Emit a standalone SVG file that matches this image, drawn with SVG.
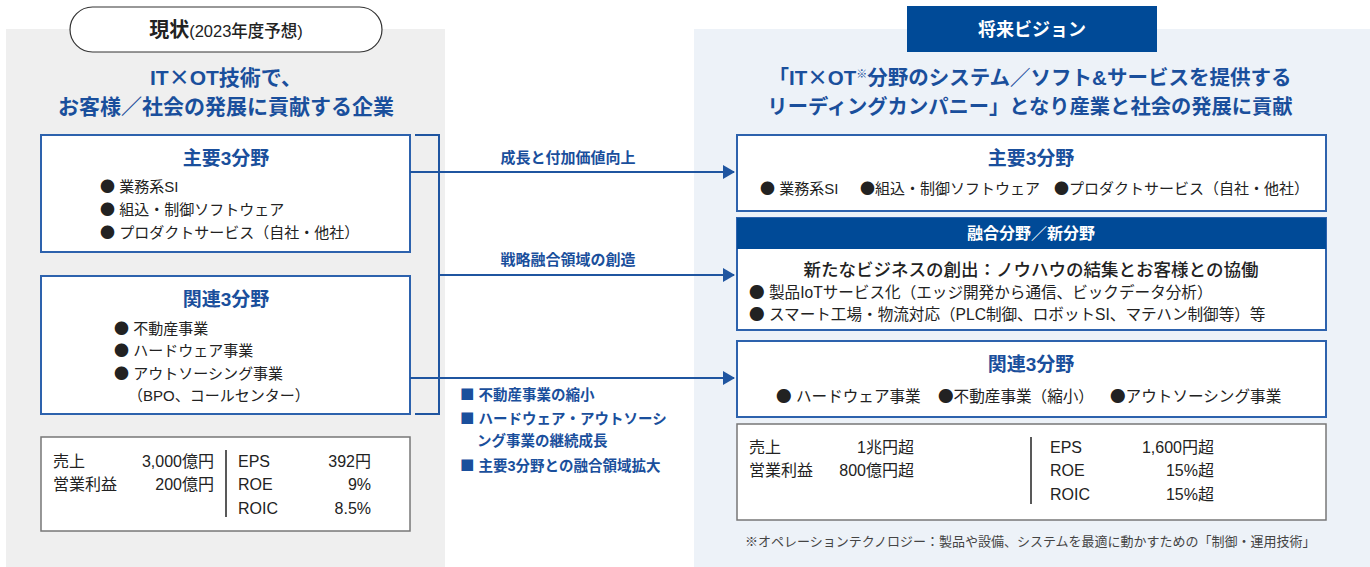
<svg xmlns="http://www.w3.org/2000/svg" width="1370" height="567" viewBox="0 0 1370 567">
<style>
text{font-family:"Liberation Sans","Noto Sans CJK JP",sans-serif;fill:#222}
.c{font-family:"Noto Sans CJK JP",sans-serif}
.t{fill:#1a4f9c;font-weight:700}
.box{fill:#fff;stroke:#2d62ad;stroke-width:2}
.nbox{fill:#fff;stroke:#777;stroke-width:1.5}
.b{font-size:15px}
.b2{font-size:15.6px}
.h{font-size:19px;text-anchor:middle}
.mid{font-size:14.5px}
.num{font-size:16px}
.r{text-anchor:end}
.con{fill:none;stroke:#1f55a0;stroke-width:2}
</style>
<defs>
<marker id="ah" markerWidth="12" markerHeight="14" refX="11" refY="7" orient="auto" markerUnits="userSpaceOnUse">
<path d="M0,0 L12,7 L0,14 Z" fill="#1f55a0"/>
</marker>
</defs>
<rect x="0" y="0" width="1370" height="567" fill="#fff"/>
<rect x="6" y="29" width="439" height="538" fill="#efefef"/>
<rect x="694" y="29" width="676" height="538" fill="#edf2f8"/>

<g id="current-header">
<rect x="70" y="7" width="312" height="45" rx="22.5" fill="#fff" stroke="#333" stroke-width="1.2"/>
<text x="226" y="37" text-anchor="middle" style="font-weight:700"><tspan font-size="20">現状</tspan><tspan font-size="16.5" font-weight="500">(2023年度予想)</tspan></text>
<text class="t" x="226" y="85" font-size="21" text-anchor="middle">IT<tspan class="c">×</tspan>OT技術で、</text>
<text class="t" x="226" y="114" font-size="21" text-anchor="middle">お客様／社会の発展に貢献する企業</text>
</g>

<g id="cur-main">
<rect class="box" x="41" y="135" width="369" height="117"/>
<text class="t h" x="226" y="165">主要3分野</text>
<text class="b" x="100" y="192"><tspan class="c">●</tspan> 業務系SI</text>
<text class="b" x="100" y="215"><tspan class="c">●</tspan> 組込・制御ソフトウェア</text>
<text class="b" x="100" y="238"><tspan class="c">●</tspan> プロダクトサービス（自社・他社）</text>
</g>

<g id="cur-related">
<rect class="box" x="41" y="276" width="369" height="138"/>
<text class="t h" x="226" y="306">関連3分野</text>
<text class="b" x="114" y="334"><tspan class="c">●</tspan> 不動産事業</text>
<text class="b" x="114" y="356"><tspan class="c">●</tspan> ハードウェア事業</text>
<text class="b" x="114" y="379"><tspan class="c">●</tspan> アウトソーシング事業</text>
<text class="b" x="128" y="401">（BPO、コールセンター）</text>
</g>

<g id="cur-numbers">
<rect class="nbox" x="41" y="437" width="369" height="94"/>
<text class="num" x="53" y="467">売上</text>
<text class="num r" x="214" y="467">3,000億円</text>
<text class="num" x="53" y="490">営業利益</text>
<text class="num r" x="214" y="490">200億円</text>
<line x1="226" y1="450" x2="226" y2="517" stroke="#222" stroke-width="1.5"/>
<text class="num" x="238" y="467">EPS</text>
<text class="num r" x="371" y="467">392円</text>
<text class="num" x="238" y="490">ROE</text>
<text class="num r" x="371" y="490">9%</text>
<text class="num" x="238" y="514">ROIC</text>
<text class="num r" x="371" y="514">8.5%</text>
</g>

<g id="connectors">
<path class="con" d="M415,135 H439 V414 H415"/>
<line class="con" x1="410" y1="172" x2="734" y2="172" marker-end="url(#ah)"/>
<line class="con" x1="439" y1="275" x2="734" y2="275" marker-end="url(#ah)"/>
<line class="con" x1="410" y1="378" x2="734" y2="378" marker-end="url(#ah)"/>
<text class="t" x="568" y="163" font-size="15" text-anchor="middle">成長と付加価値向上</text>
<text class="t" x="568" y="265" font-size="15" text-anchor="middle">戦略融合領域の創造</text>
<text class="t mid" x="460" y="400"><tspan class="c">■</tspan> 不動産事業の縮小</text>
<text class="t mid" x="460" y="424"><tspan class="c">■</tspan> ハードウェア・アウトソーシ</text>
<text class="t mid" x="477" y="446">ング事業の継続成長</text>
<text class="t mid" x="460" y="471"><tspan class="c">■</tspan> 主要3分野との融合領域拡大</text>
</g>

<g id="future-header">
<rect x="907" y="6" width="250" height="46" fill="#004a97"/>
<text x="1032" y="36" text-anchor="middle" font-size="18" font-weight="700" style="fill:#fff">将来ビジョン</text>
<text class="t" x="1030" y="85" font-size="20.5" text-anchor="middle">「IT<tspan class="c">×</tspan>OT<tspan font-size="11" dy="-7">※</tspan><tspan dy="7">分野のシステム／ソフト&amp;サービスを提供する</tspan></text>
<text class="t" x="1030" y="114" font-size="20.3" text-anchor="middle">リーディングカンパニー」となり産業と社会の発展に貢献</text>
</g>

<g id="fut-main">
<rect class="box" x="737" y="135" width="589" height="76"/>
<text class="t h" x="1031" y="165">主要3分野</text>
<text class="b" x="760" y="194"><tspan class="c">●</tspan> 業務系SI</text>
<text class="b" x="860" y="194"><tspan class="c">●</tspan>組込・制御ソフトウェア</text>
<text class="b" x="1054" y="194"><tspan class="c">●</tspan>プロダクトサービス（自社・他社）</text>
</g>

<g id="fut-fusion">
<rect x="737" y="218" width="589" height="112" fill="#fff" stroke="#2d62ad" stroke-width="2"/>
<rect x="737" y="218" width="589" height="31" fill="#004a97"/>
<text x="1031" y="239" text-anchor="middle" font-size="16" font-weight="700" style="fill:#fff">融合分野／新分野</text>
<text x="1031" y="276" text-anchor="middle" font-size="17.5" font-weight="500">新たなビジネスの創出：ノウハウの結集とお客様との協働</text>
<text class="b2" x="749" y="298"><tspan class="c">●</tspan> 製品IoTサービス化（エッジ開発から通信、ビックデータ分析）</text>
<text class="b2" x="749" y="320"><tspan class="c">●</tspan> スマート工場・物流対応（PLC制御、ロボットSI、マテハン制御等）等</text>
</g>

<g id="fut-related">
<rect class="box" x="737" y="341" width="589" height="76"/>
<text class="t h" x="1031" y="371">関連3分野</text>
<text class="b2" x="776" y="402"><tspan class="c">●</tspan> ハードウェア事業</text>
<text class="b2" x="938" y="402"><tspan class="c">●</tspan>不動産事業（縮小）</text>
<text class="b2" x="1110" y="402"><tspan class="c">●</tspan>アウトソーシング事業</text>
</g>

<g id="fut-numbers">
<rect class="nbox" x="737" y="424" width="589" height="96"/>
<text class="num" x="749" y="453">売上</text>
<text class="num r" x="914" y="453">1兆円超</text>
<text class="num" x="749" y="476">営業利益</text>
<text class="num r" x="914" y="476">800億円超</text>
<line x1="1031" y1="437" x2="1031" y2="504" stroke="#222" stroke-width="1.5"/>
<text class="num" x="1050" y="453">EPS</text>
<text class="num r" x="1214" y="453">1,600円超</text>
<text class="num" x="1050" y="476">ROE</text>
<text class="num r" x="1214" y="476">15%超</text>
<text class="num" x="1050" y="500">ROIC</text>
<text class="num r" x="1214" y="500">15%超</text>
</g>

<text x="745" y="546" font-size="13" style="fill:#444">※オペレーションテクノロジー：製品や設備、システムを最適に動かすための「制御・運用技術」</text>
</svg>
